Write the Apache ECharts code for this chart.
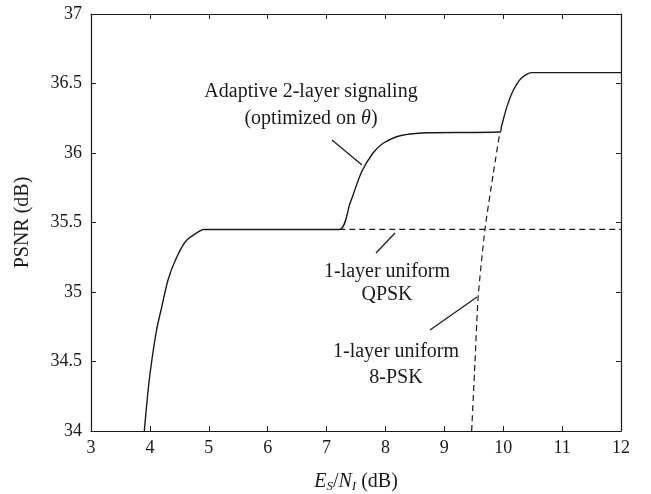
<!DOCTYPE html>
<html>
<head>
<meta charset="utf-8">
<script src="https://cdn.jsdelivr.net/npm/echarts@6/dist/echarts.min.js"></script>
<style>
html, body { margin: 0; padding: 0; background: #fff; }
#main { width: 651px; height: 494px; }
</style>
</head>
<body>
<div id="main"></div>
<script>
/* data */
var adaptiveX = [3.905, 3.97, 4.03, 4.115, 4.2, 4.31, 4.455, 4.62, 4.85, 4.91, 7.216, 7.40, 7.596, 7.79, 7.96, 8.19, 8.42, 8.70, 9.944, 9.97, 10.06, 10.17, 10.31, 10.48, 12];
var adaptiveY = [34.0, 34.295, 34.5, 34.73, 34.89, 35.09, 35.25, 35.37, 35.44, 35.45, 35.45, 35.64, 35.865, 36.0, 36.07, 36.117, 36.137, 36.146, 36.151, 36.19, 36.33, 36.45, 36.54, 36.578, 36.578];
var qpskX = [7.216, 12];
var qpskY = [35.45, 35.45];
var psk8X = [9.464, 9.52, 9.575, 9.69, 9.83, 9.944];
var psk8Y = [34.0, 34.49, 34.97, 35.45, 35.85, 36.151];
var xTicks = [3, 12, 1];   // min, max, step
var yTicks = [34, 37, 0.5];

function pairs(xs, ys) {
    return xs.map(function (x, i) { return [x, ys[i]]; });
}

var ink = '#1a1a1a';
var font = 'Liberation Serif';
var noteFont = '20px "Liberation Serif"';

var axisCommon = {
    type: 'value',
    axisLine: { show: true, onZero: false, lineStyle: { color: ink, width: 1.2 } },
    axisTick: { show: true, inside: true, length: 5, lineStyle: { color: ink, width: 1 } },
    splitLine: { show: false }
};

var option = {
    animation: false,
    backgroundColor: '#fff',
    grid: { left: 91, right: 30, top: 14, bottom: 63, outerBoundsMode: 'none' },
    xAxis: [
        Object.assign({}, axisCommon, {
            position: 'bottom',
            min: xTicks[0], max: xTicks[1], interval: xTicks[2],
            axisLabel: { color: ink, fontFamily: font, fontSize: 18, margin: 8 },
            name: '{i|E}{s|S}{n|/}{i|N}{s|I}{n| (dB)}',
            nameLocation: 'middle',
            nameGap: 40,
            nameTextStyle: {
                rich: {
                    i: { fontFamily: font, fontStyle: 'italic', fontSize: 20, color: ink },
                    s: { fontFamily: font, fontStyle: 'italic', fontSize: 13, color: ink, verticalAlign: 'bottom', padding: [9, 0, 0, 0] },
                    n: { fontFamily: font, fontSize: 20, color: ink }
                }
            }
        }),
        Object.assign({}, axisCommon, {
            position: 'top',
            min: xTicks[0], max: xTicks[1], interval: xTicks[2],
            axisLabel: { show: false }
        })
    ],
    yAxis: [
        Object.assign({}, axisCommon, {
            position: 'left',
            min: yTicks[0], max: yTicks[1], interval: yTicks[2],
            axisLabel: { color: ink, fontFamily: font, fontSize: 18, margin: 9 },
            name: 'PSNR (dB)',
            nameLocation: 'middle',
            nameGap: 58,
            nameTextStyle: { color: ink, fontFamily: font, fontSize: 20 }
        }),
        Object.assign({}, axisCommon, {
            position: 'right',
            min: yTicks[0], max: yTicks[1], interval: yTicks[2],
            axisLabel: { show: false }
        })
    ],
    series: [
        {
            name: 'QPSK',
            type: 'line',
            data: pairs(qpskX, qpskY),
            showSymbol: false,
            lineStyle: { color: ink, width: 1.2, type: [6, 4] },
            z: 2
        },
        {
            name: '8-PSK',
            type: 'line',
            data: pairs(psk8X, psk8Y),
            showSymbol: false,
            smooth: 0.2,
            lineStyle: { color: ink, width: 1.2, type: [6, 4] },
            z: 2
        },
        {
            name: 'Adaptive',
            type: 'line',
            data: pairs(adaptiveX, adaptiveY),
            showSymbol: false,
            smooth: 0.25,
            lineStyle: { color: ink, width: 1.4 },
            z: 3
        }
    ],
    graphic: [
        {
            type: 'text', x: 311, y: 92,
            style: { text: 'Adaptive 2-layer signaling', fill: ink, font: noteFont, align: 'center', verticalAlign: 'middle' }
        },
        {
            type: 'text', x: 311, y: 119,
            style: {
                text: '(optimized on {i|θ})', fill: ink, font: noteFont, align: 'center', verticalAlign: 'middle',
                rich: { i: { fontStyle: 'italic', fontFamily: font, fontSize: 20, fill: ink } }
            }
        },
        { type: 'line', shape: { x1: 332, y1: 140, x2: 362, y2: 165 }, style: { stroke: ink, lineWidth: 1.2 } },
        {
            type: 'text', x: 387, y: 272,
            style: { text: '1-layer uniform', fill: ink, font: noteFont, align: 'center', verticalAlign: 'middle' }
        },
        {
            type: 'text', x: 387, y: 295,
            style: { text: 'QPSK', fill: ink, font: noteFont, align: 'center', verticalAlign: 'middle' }
        },
        { type: 'line', shape: { x1: 376, y1: 253, x2: 395, y2: 233 }, style: { stroke: ink, lineWidth: 1.2 } },
        {
            type: 'text', x: 396, y: 352,
            style: { text: '1-layer uniform', fill: ink, font: noteFont, align: 'center', verticalAlign: 'middle' }
        },
        {
            type: 'text', x: 396, y: 378,
            style: { text: '8-PSK', fill: ink, font: noteFont, align: 'center', verticalAlign: 'middle' }
        },
        { type: 'line', shape: { x1: 430, y1: 330, x2: 477, y2: 297 }, style: { stroke: ink, lineWidth: 1.2 } }
    ]
};

var myChart = echarts.init(document.getElementById('main'));
myChart.setOption(option);
</script>
</body>
</html>
